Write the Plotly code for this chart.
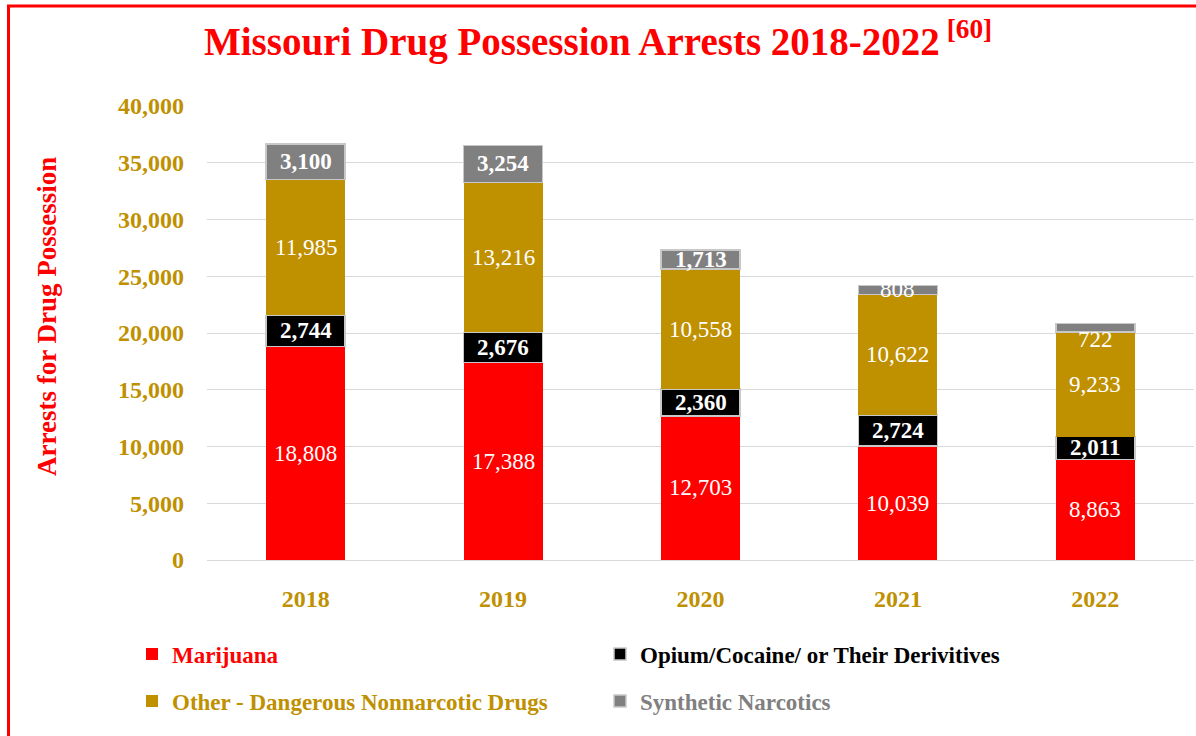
import plotly.graph_objects as go

# Missouri drug possession arrests by category, 2018-2022
years = ["2018", "2019", "2020", "2021", "2022"]
marijuana = [18808, 17388, 12703, 10039, 8863]
opium_cocaine = [2744, 2676, 2360, 2724, 2011]
other_dangerous = [11985, 13216, 10558, 10622, 9233]
synthetic = [3100, 3254, 1713, 808, 722]

series_names = [
    "Marijuana",
    "Opium/Cocaine/ or Their Derivitives",
    "Other - Dangerous Nonnarcotic Drugs",
    "Synthetic Narcotics",
]
series_values = [marijuana, opium_cocaine, other_dangerous, synthetic]
series_colors = ["#FF0000", "#000000", "#BF9000", "#808080"]
legend_text_colors = ["#FF0000", "#000000", "#BF9000", "#808080"]
label_bold = [False, True, False, True]
outline = ["rgba(0,0,0,0)", "#C8C8C8", "rgba(0,0,0,0)", "#C8C8C8"]
legend_ids = ["legend", "legend", "legend2", "legend2"]

FONT = "Liberation Serif"
GOLD = "#BF9000"

W, H = 1196, 736
M_L, M_R, M_T, M_B = 207, 2, 106, 176
PW = W - M_L - M_R
PH = H - M_T - M_B

xpos = list(range(len(years)))


def px_to_paper_x(px):
    return (px - M_L) / PW


def px_to_paper_y(py):
    return (H - M_B - py) / PH


fig = go.Figure()
for name, vals, col, tcol, line_col, lg in zip(
    series_names, series_values, series_colors, legend_text_colors, outline, legend_ids
):
    fig.add_trace(
        go.Bar(
            x=xpos,
            y=vals,
            name=f"<span style='color:{tcol}'>{name}</span>",
            marker=dict(color=col, line=dict(color=line_col, width=1.5)),
            legend=lg,
            hoverinfo="skip",
        )
    )

# Value labels centred in each stacked segment
annotations = []
base = [0] * len(years)
for s, (vals, bold) in enumerate(zip(series_values, label_bold)):
    for i, v in enumerate(vals):
        mid = base[i] + v / 2
        txt = f"{v:,}"
        # thin segments keep a plain label that spills past the segment
        if bold and v >= 1000:
            txt = f"<b>{txt}</b>"
        yshift = 0
        if s == 3 and years[i] == "2022":
            yshift = -12
        annotations.append(
            dict(
                x=xpos[i], y=mid, xref="x", yref="y", text=txt, showarrow=False,
                font=dict(family=FONT, size=23, color="white"),
                yshift=yshift,
            )
        )
        base[i] += v

# Vertical axis title
annotations.append(
    dict(
        x=px_to_paper_x(47), y=px_to_paper_y(317), xref="paper", yref="paper",
        text="<b>Arrests for Drug Possession</b>", textangle=-90, showarrow=False,
        xanchor="center", yanchor="middle",
        font=dict(family=FONT, size=27, color="#FF0000"),
    )
)

fig.update_layout(
    width=W, height=H,
    margin=dict(l=M_L, r=M_R, t=M_T, b=M_B),
    paper_bgcolor="white", plot_bgcolor="white",
    barmode="stack", bargap=0.6,
    title=dict(
        text="<b>Missouri Drug Possession Arrests 2018-2022<sup> [60]</sup></b>",
        x=0.5, xref="container", xanchor="center",
        y=1 - 41 / H, yref="container", yanchor="middle",
        font=dict(family=FONT, size=39, color="#FF0000"),
    ),
    xaxis=dict(
        range=[-0.5, len(years) - 0.5],
        tickmode="array", tickvals=xpos, ticktext=years,
        tickfont=dict(family=FONT, size=24, color=GOLD, weight="bold"),
        showgrid=False, showline=False, zeroline=False, ticks="", ticklabelstandoff=22,
    ),
    yaxis=dict(
        range=[0, 40000], dtick=5000, tickformat=",",
        tickfont=dict(family=FONT, size=24, color=GOLD, weight="bold"),
        showgrid=True, gridcolor="#D9D9D9", gridwidth=1,
        zeroline=True, zerolinecolor="#D9D9D9", zerolinewidth=1,
        showline=False, ticks="", ticklabelstandoff=22,
    ),
    legend=dict(
        orientation="h", x=px_to_paper_x(132), y=px_to_paper_y(654),
        xanchor="left", yanchor="middle", traceorder="normal",
        entrywidth=423, entrywidthmode="pixels", itemwidth=30,
        font=dict(family=FONT, size=23, weight="bold"),
        bgcolor="rgba(0,0,0,0)",
    ),
    legend2=dict(
        orientation="h", x=px_to_paper_x(132), y=px_to_paper_y(701),
        xanchor="left", yanchor="middle", traceorder="normal",
        entrywidth=423, entrywidthmode="pixels", itemwidth=30,
        font=dict(family=FONT, size=23, weight="bold"),
        bgcolor="rgba(0,0,0,0)",
    ),
    annotations=annotations,
    shapes=[
        dict(
            type="rect", xref="paper", yref="paper",
            x0=px_to_paper_x(8.5), x1=px_to_paper_x(1210),
            y0=px_to_paper_y(760), y1=px_to_paper_y(6),
            line=dict(color="#FF0000", width=3), fillcolor="rgba(0,0,0,0)",
            layer="above",
        )
    ],
    showlegend=True,
)

fig.write_html("out.html")
